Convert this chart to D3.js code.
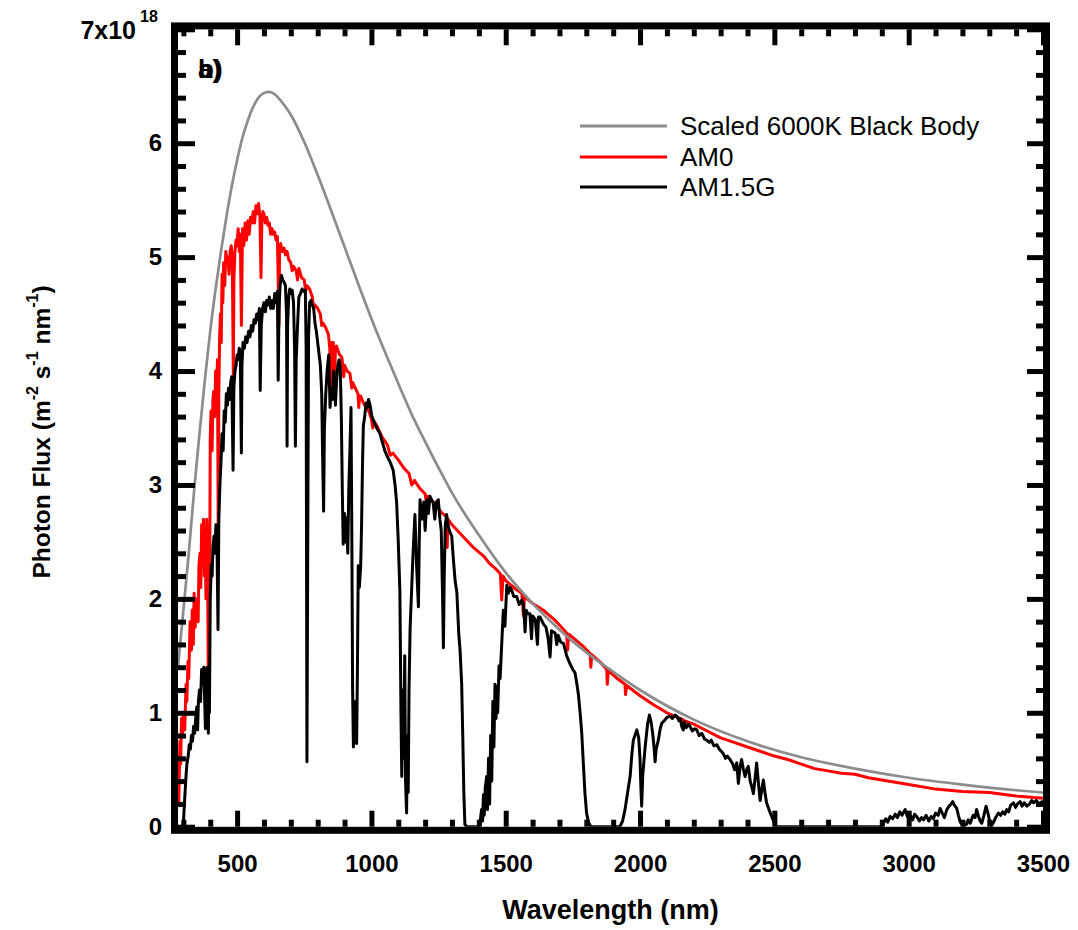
<!DOCTYPE html>
<html><head><meta charset="utf-8">
<script src="https://cdn.jsdelivr.net/npm/d3@7"></script>
<style>
html,body{margin:0;padding:0;background:#fff;}
svg{display:block;font-family:"Liberation Sans",Arial,Helvetica,sans-serif;}
</style></head><body>
<svg id="chart" width="1078" height="930"></svg>
<script>
// ---- data ----
const xMajorTicks = [500,1000,1500,2000,2500,3000,3500];
const yMajorTicks = [0,1,2,3,4,5,6,7];
const seriesNames = ["Scaled 6000K Black Body","AM0","AM1.5G"];
const seriesColors = ["#8c8c8c","#ff0000","#000000"];

// [wavelength nm, photon flux / 1e18]
const blackBody = [[280,1.40],[290,1.65],[300,1.90],[320,2.40],[340,2.95],[360,3.45],[380,3.92],[400,4.35],[420,4.72],[440,5.05],[460,5.35],[480,5.62],[500,5.85],[520,6.05],[540,6.20],[560,6.32],[580,6.40],[600,6.44],[620,6.45],[640,6.43],[660,6.38],[680,6.32],[700,6.25],[750,6.01],[800,5.72],[850,5.41],[900,5.09],[950,4.77],[1000,4.46],[1050,4.17],[1100,3.89],[1150,3.62],[1200,3.38],[1250,3.15],[1300,2.93],[1400,2.56],[1500,2.23],[1600,1.96],[1700,1.73],[1800,1.53],[1900,1.36],[2000,1.20],[2200,0.94],[2400,0.75],[2600,0.61],[2800,0.51],[3000,0.43],[3200,0.37],[3400,0.32],[3500,0.30]];

const am0 = [[280,0.20],[283,0.22],[287,0.75],[290,0.55],[293,0.95],[297,0.80],[300,1.00],[305,0.85],[310,1.25],[313,1.10],[317,1.45],[320,1.30],[325,1.80],[330,1.55],[333,1.90],[337,1.60],[340,2.05],[344,1.75],[347,2.00],[351,2.00],[355,1.80],[358,2.30],[362,2.40],[365,2.10],[368,2.65],[372,2.50],[375,2.70],[378,2.20],[381,2.60],[384,2.00],[387,2.70],[390,2.30],[393,1.26],[396,2.00],[397,1.50],[400,3.40],[403,3.65],[407,3.30],[410,3.75],[413,3.82],[417,3.60],[420,4.00],[424,3.85],[427,4.10],[430,2.40],[432,3.80],[435,4.30],[438,4.50],[441,4.25],[444,4.85],[447,4.60],[450,4.95],[454,4.75],[458,5.05],[462,4.95],[466,5.00],[470,4.85],[474,5.05],[478,5.10],[482,5.00],[486,3.95],[488,4.80],[492,5.05],[496,5.15],[500,5.10],[504,5.25],[508,5.05],[512,5.20],[516,4.40],[518,4.80],[520,5.25],[525,5.10],[530,5.30],[535,5.15],[540,5.32],[545,5.20],[550,5.35],[555,5.30],[560,5.40],[565,5.30],[570,5.45],[575,5.38],[580,5.47],[585,5.35],[589,4.82],[592,5.30],[596,5.40],[600,5.38],[605,5.30],[610,5.35],[615,5.28],[620,5.30],[625,5.20],[630,5.25],[635,5.20],[640,5.22],[645,5.15],[650,5.18],[656,4.40],[658,5.05],[662,5.12],[668,5.05],[675,5.08],[680,5.02],[686,5.05],[692,4.98],[700,4.95],[705,4.88],[710,4.92],[720,4.88],[725,4.80],[730,4.90],[740,4.82],[750,4.80],[755,4.70],[760,4.75],[770,4.72],[780,4.65],[785,4.55],[790,4.58],[800,4.55],[810,4.50],[815,4.40],[820,4.42],[830,4.38],[840,4.32],[845,4.20],[850,3.75],[853,4.25],[858,4.25],[862,3.80],[866,4.20],[870,4.22],[880,4.15],[890,4.12],[897,3.95],[900,4.05],[910,4.00],[920,3.98],[927,3.85],[930,3.90],[940,3.85],[950,3.80],[953,3.68],[956,3.78],[960,3.78],[970,3.72],[980,3.68],[990,3.65],[1000,3.58],[1005,3.50],[1010,3.56],[1020,3.52],[1040,3.42],[1060,3.35],[1070,3.26],[1080,3.28],[1100,3.22],[1120,3.15],[1140,3.10],[1150,3.00],[1160,3.04],[1180,2.97],[1200,2.92],[1205,2.84],[1210,2.90],[1220,2.88],[1240,2.82],[1260,2.76],[1280,2.72],[1282,2.45],[1285,2.70],[1300,2.65],[1320,2.60],[1340,2.55],[1360,2.50],[1380,2.45],[1400,2.41],[1420,2.37],[1440,2.31],[1460,2.27],[1480,2.22],[1485,1.99],[1490,2.20],[1500,2.16],[1520,2.12],[1540,2.08],[1560,2.05],[1566,1.85],[1570,2.03],[1580,2.00],[1600,1.96],[1620,1.93],[1640,1.90],[1660,1.86],[1680,1.82],[1700,1.77],[1727,1.70],[1730,1.55],[1735,1.69],[1760,1.64],[1790,1.58],[1814,1.52],[1817,1.40],[1820,1.51],[1850,1.45],[1876,1.38],[1878,1.25],[1882,1.37],[1910,1.31],[1944,1.25],[1946,1.16],[1950,1.24],[2000,1.15],[2050,1.07],[2100,1.00],[2160,0.94],[2162,0.88],[2165,0.93],[2200,0.90],[2250,0.84],[2300,0.78],[2350,0.74],[2400,0.70],[2450,0.66],[2500,0.62],[2550,0.59],[2600,0.55],[2650,0.51],[2700,0.49],[2750,0.47],[2800,0.46],[2850,0.43],[2900,0.41],[2950,0.39],[3000,0.37],[3100,0.33],[3200,0.31],[3300,0.30],[3400,0.27],[3500,0.25]];

const am15g = [[280,0],[295,0],[300,0.03],[305,0.25],[310,0.45],[313,0.55],[318,0.62],[322,0.72],[326,0.68],[330,0.80],[334,0.75],[338,0.88],[342,0.82],[346,0.95],[350,1.05],[353,0.85],[356,1.10],[360,1.20],[364,1.10],[368,1.38],[372,1.25],[376,1.40],[380,1.05],[382,0.86],[384,1.30],[388,1.40],[391,1.20],[393,0.82],[396,1.40],[397,1.00],[400,2.00],[404,2.30],[407,2.20],[410,2.45],[414,2.55],[418,2.40],[421,2.65],[425,2.50],[429,1.73],[432,2.70],[436,3.00],[440,3.20],[444,3.45],[448,3.30],[452,3.65],[456,3.55],[460,3.80],[464,3.70],[468,3.85],[472,3.75],[476,3.90],[480,3.95],[485,3.13],[488,3.85],[492,4.00],[496,4.05],[500,4.14],[504,4.10],[508,4.20],[512,4.15],[516,3.28],[518,4.05],[522,4.25],[527,4.20],[532,4.30],[537,4.25],[543,4.35],[548,4.30],[553,4.40],[558,4.35],[563,4.45],[568,4.42],[573,4.50],[578,4.45],[583,4.55],[586,3.83],[590,4.40],[595,4.55],[600,4.60],[605,4.52],[610,4.62],[615,4.58],[620,4.65],[625,4.55],[630,4.62],[635,4.55],[640,4.68],[645,4.60],[650,4.70],[653,3.92],[656,4.55],[660,4.75],[665,4.84],[670,4.80],[675,4.78],[680,4.75],[684,4.50],[686,3.34],[688,4.40],[692,4.65],[696,4.72],[700,4.68],[705,4.71],[710,4.60],[714,4.20],[717,3.34],[720,4.10],[725,4.40],[730,4.65],[736,4.68],[742,4.72],[748,4.70],[754,4.71],[757,4.20],[760,0.57],[763,2.50],[766,4.30],[770,4.60],[775,4.62],[780,4.58],[785,4.55],[790,4.42],[795,4.35],[800,4.25],[805,4.15],[810,4.05],[815,3.80],[818,3.30],[822,2.77],[825,3.50],[830,3.80],[835,4.00],[841,4.14],[846,3.68],[850,3.85],[855,3.75],[860,4.00],[866,3.70],[870,3.90],[875,4.05],[880,4.10],[884,4.03],[888,3.60],[892,2.90],[895,2.48],[900,2.75],[904,2.50],[908,2.71],[912,2.40],[916,3.00],[920,3.30],[924,3.68],[927,2.60],[930,1.20],[933,0.70],[937,1.10],[941,0.80],[945,0.73],[948,1.40],[951,2.29],[955,2.10],[960,2.29],[963,2.60],[967,3.20],[970,3.52],[975,3.60],[980,3.72],[985,3.68],[989,3.75],[995,3.70],[1001,3.61],[1010,3.55],[1020,3.50],[1032,3.45],[1040,3.38],[1050,3.30],[1063,3.23],[1070,3.20],[1081,3.13],[1088,3.00],[1094,2.84],[1100,2.50],[1106,2.06],[1110,1.00],[1113,0.44],[1117,1.20],[1120,0.60],[1124,1.50],[1127,0.40],[1131,0.12],[1134,0.80],[1137,0.30],[1140,1.20],[1144,1.74],[1150,2.10],[1155,2.40],[1162,2.74],[1168,2.30],[1175,1.93],[1178,2.50],[1181,2.87],[1188,2.70],[1195,2.85],[1200,2.60],[1206,2.87],[1212,2.75],[1218,2.90],[1224,2.87],[1230,2.84],[1236,2.70],[1242,2.85],[1249,2.87],[1255,2.70],[1260,2.60],[1265,2.00],[1268,1.57],[1271,2.20],[1275,2.65],[1280,2.74],[1285,2.65],[1290,2.60],[1299,2.55],[1305,2.35],[1312,2.15],[1318,2.06],[1325,1.70],[1330,1.55],[1336,1.25],[1340,0.80],[1344,0.30],[1348,0.02],[1355,0],[1398,0],[1405,0.05],[1410,0.15],[1414,0.05],[1417,0.28],[1420,0.10],[1424,0.35],[1429,0.44],[1432,0.15],[1436,0.60],[1440,0.20],[1444,0.80],[1448,0.40],[1452,1.10],[1456,0.70],[1460,1.25],[1464,0.95],[1467,1.23],[1470,1.00],[1475,1.41],[1479,1.30],[1485,1.60],[1491,1.90],[1497,1.76],[1504,2.12],[1510,2.05],[1516,2.10],[1522,2.08],[1530,2.02],[1541,2.02],[1550,1.95],[1560,1.99],[1566,1.95],[1572,1.71],[1576,1.90],[1582,1.87],[1590,1.87],[1596,1.65],[1600,1.85],[1610,1.82],[1618,1.60],[1622,1.84],[1628,1.84],[1640,1.78],[1650,1.75],[1658,1.65],[1665,1.49],[1670,1.72],[1684,1.70],[1690,1.60],[1695,1.68],[1705,1.62],[1715,1.61],[1727,1.50],[1739,1.43],[1750,1.38],[1758,1.35],[1765,1.25],[1770,1.17],[1777,1.00],[1783,0.82],[1789,0.55],[1795,0.29],[1801,0.12],[1808,0.04],[1814,0.01],[1820,0],[1925,0],[1935,0.05],[1944,0.15],[1955,0.32],[1963,0.44],[1970,0.65],[1975,0.76],[1988,0.85],[1995,0.78],[2000,0.59],[2003,0.35],[2006,0.18],[2010,0.45],[2019,0.70],[2028,0.90],[2035,0.98],[2041,0.92],[2047,0.82],[2052,0.70],[2056,0.57],[2060,0.68],[2068,0.76],[2075,0.86],[2081,0.91],[2090,0.93],[2100,0.96],[2112,0.97],[2120,0.95],[2130,0.98],[2137,0.97],[2145,0.93],[2150,0.95],[2155,0.88],[2161,0.85],[2165,0.92],[2172,0.87],[2180,0.90],[2186,0.88],[2195,0.84],[2203,0.86],[2211,0.85],[2220,0.80],[2230,0.82],[2240,0.77],[2248,0.76],[2258,0.74],[2265,0.76],[2275,0.71],[2286,0.72],[2295,0.68],[2303,0.66],[2310,0.64],[2318,0.60],[2325,0.62],[2335,0.59],[2345,0.55],[2352,0.50],[2360,0.56],[2366,0.38],[2372,0.52],[2378,0.59],[2385,0.50],[2391,0.44],[2397,0.50],[2403,0.53],[2410,0.40],[2416,0.35],[2422,0.29],[2428,0.42],[2434,0.56],[2440,0.40],[2447,0.23],[2453,0.32],[2459,0.41],[2465,0.30],[2471,0.21],[2480,0.15],[2490,0.09],[2500,0.03],[2508,0],[2895,0],[2906,0.03],[2915,0.07],[2922,0.04],[2931,0.09],[2940,0.07],[2950,0.11],[2958,0.08],[2967,0.13],[2975,0.10],[2987,0.15],[2995,0.09],[3006,0.10],[3015,0.06],[3022,0.11],[3030,0.09],[3040,0.05],[3048,0.08],[3055,0.06],[3065,0.10],[3075,0.05],[3084,0.09],[3092,0.07],[3100,0.12],[3110,0.10],[3117,0.16],[3125,0.12],[3133,0.08],[3142,0.15],[3150,0.18],[3158,0.20],[3164,0.22],[3170,0.19],[3179,0.16],[3185,0.10],[3192,0.04],[3204,0.01],[3215,0.02],[3222,0.06],[3229,0.03],[3240,0.10],[3247,0.08],[3253,0.15],[3260,0.09],[3266,0.05],[3272,0.03],[3280,0.10],[3288,0.18],[3295,0.12],[3302,0.04],[3309,0.01],[3318,0.05],[3326,0.09],[3334,0.12],[3342,0.10],[3350,0.13],[3358,0.11],[3365,0.15],[3372,0.13],[3380,0.19],[3390,0.21],[3398,0.17],[3405,0.20],[3415,0.22],[3422,0.18],[3430,0.21],[3440,0.18],[3450,0.20],[3458,0.23],[3465,0.21],[3475,0.23],[3485,0.20],[3496,0.22],[3500,0.22]];

// ---- layout ----
const L = 178, R = 1043, T = 29.3, B = 826.7;
const svg = d3.select("#chart");
const x = d3.scaleLinear().domain([280,3500]).range([L,R]);
const y = d3.scaleLinear().domain([0,7]).range([B,T]);

const xMinor = d3.range(300,3501,100).filter(d => d % 500 !== 0);
const yMinor = d3.range(0,7.001,0.2).map(d => +d.toFixed(1)).filter(d => Math.abs(d - Math.round(d)) > 1e-6);

svg.append("defs").append("clipPath").attr("id","clip")
  .append("rect").attr("x",L).attr("y",T).attr("width",R-L).attr("height",B-T);

// ---- series ----
const line = d3.line().x(d => x(d[0])).y(d => y(d[1]));
const smooth = d3.line().x(d => x(d[0])).y(d => y(d[1])).curve(d3.curveMonotoneX);
const plot = svg.append("g").attr("clip-path","url(#clip)");
plot.append("path").datum(am0).attr("d",line).attr("fill","none")
  .attr("stroke",seriesColors[1]).attr("stroke-width",3).attr("stroke-linejoin","round");
plot.append("path").datum(blackBody).attr("d",smooth).attr("fill","none")
  .attr("stroke",seriesColors[0]).attr("stroke-width",2.7);
plot.append("path").datum(am15g).attr("d",line).attr("fill","none")
  .attr("stroke",seriesColors[2]).attr("stroke-width",3).attr("stroke-linejoin","round");

// ---- axes ----
function styleAxis(g){
  g.select(".domain").remove();
  g.selectAll(".tick line").attr("stroke","#000").attr("stroke-width",5);
  g.selectAll(".tick text").attr("fill","#000").attr("font-size",24).attr("font-weight","bold")
   .attr("font-family","Liberation Sans, Arial, sans-serif");
}
svg.append("g").attr("transform",`translate(0,${B})`)
  .call(d3.axisBottom(x).tickValues(xMajorTicks).tickSizeInner(-16).tickSizeOuter(0).tickPadding(28).tickFormat(d3.format("d")))
  .call(styleAxis);
svg.append("g").attr("transform",`translate(0,${B})`)
  .call(d3.axisBottom(x).tickValues(xMinor).tickSizeInner(-7).tickSizeOuter(0).tickFormat(""))
  .call(styleAxis);
svg.append("g").attr("transform",`translate(0,${T})`)
  .call(d3.axisTop(x).tickValues(xMajorTicks).tickSizeInner(-16).tickSizeOuter(0).tickFormat(""))
  .call(styleAxis);
svg.append("g").attr("transform",`translate(0,${T})`)
  .call(d3.axisTop(x).tickValues(xMinor).tickSizeInner(-7).tickSizeOuter(0).tickFormat(""))
  .call(styleAxis);
svg.append("g").attr("transform",`translate(${L},0)`)
  .call(d3.axisLeft(y).tickValues(yMajorTicks).tickSizeInner(-17).tickSizeOuter(0).tickPadding(16)
        .tickFormat(d => d === 7 ? "" : d3.format("d")(d)))
  .call(styleAxis);
svg.append("g").attr("transform",`translate(${L},0)`)
  .call(d3.axisLeft(y).tickValues(yMinor).tickSizeInner(-8).tickSizeOuter(0).tickFormat(""))
  .call(styleAxis);
svg.append("g").attr("transform",`translate(${R},0)`)
  .call(d3.axisRight(y).tickValues(yMajorTicks).tickSizeInner(-16).tickSizeOuter(0).tickFormat(""))
  .call(styleAxis);
svg.append("g").attr("transform",`translate(${R},0)`)
  .call(d3.axisRight(y).tickValues(yMinor).tickSizeInner(-7).tickSizeOuter(0).tickFormat(""))
  .call(styleAxis);

// frame
svg.append("rect").attr("x",L-3.5).attr("y",T-3.4).attr("width",R-L+7).attr("height",B-T+7)
  .attr("fill","none").attr("stroke","#000").attr("stroke-width",7);

// top label 7x10^18
svg.append("text").attr("x",136).attr("y",y(7)+10).attr("text-anchor","end")
  .attr("font-size",25).attr("font-weight","bold").text("7x10");
svg.append("text").attr("x",140).attr("y",y(7)-7).attr("text-anchor","start")
  .attr("font-size",16).attr("font-weight","bold").text("18");

// axis titles
svg.append("text").attr("x",(L+R)/2).attr("y",919).attr("text-anchor","middle")
  .attr("font-size",27).attr("font-weight","bold").text("Wavelength (nm)");
const yt = svg.append("text").attr("transform",`translate(50,${(T+B)/2+4}) rotate(-90)`)
  .attr("text-anchor","middle").attr("font-size",24.5).attr("font-weight","bold");
yt.append("tspan").text("Photon Flux (m");
yt.append("tspan").attr("font-size",16).attr("dy",-12).text("-2");
yt.append("tspan").attr("dy",12).text(" s");
yt.append("tspan").attr("font-size",16).attr("dy",-12).text("-1");
yt.append("tspan").attr("dy",12).text(" nm");
yt.append("tspan").attr("font-size",16).attr("dy",-12).text("-1");
yt.append("tspan").attr("dy",12).text(")");

// panel label (overprinted a) / b))
svg.append("text").attr("x",198).attr("y",78).attr("font-size",26).attr("font-weight","bold").text("a)");
svg.append("text").attr("x",198).attr("y",78).attr("font-size",26).attr("font-weight","bold").text("b)");

// legend
const legY = [126,157,187];
const leg = svg.append("g");
seriesNames.forEach((n,i) => {
  leg.append("line").attr("x1",580).attr("x2",667).attr("y1",legY[i]).attr("y2",legY[i])
    .attr("stroke",seriesColors[i]).attr("stroke-width",3);
  leg.append("text").attr("x",680).attr("y",legY[i]+9).attr("font-size",26).text(n);
});
</script>
</body></html>
